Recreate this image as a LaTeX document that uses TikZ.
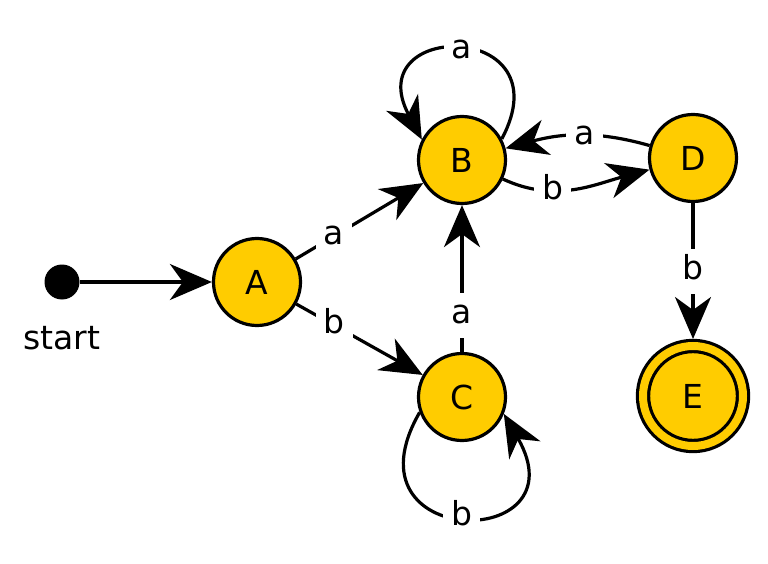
\documentclass[tikz,border=0pt]{standalone}
\usepackage{fontspec}
\setmainfont{DejaVu Sans}
\usetikzlibrary{arrows.meta}
\definecolor{stfill}{RGB}{255,204,0}
\begin{document}
\begin{tikzpicture}[x=1pt,y=1pt,
  every node/.style={font=\fontsize{33}{40}\selectfont},
  state/.style={circle, draw=black, line width=3.2pt, fill=stfill, minimum size=87pt, inner sep=0pt},
  accept/.style={circle, draw=black, line width=3.2pt, fill=stfill, double=stfill, double distance=8pt, minimum size=100pt, inner sep=0pt, outer sep=7pt},
  initdot/.style={circle, fill=black, minimum size=35pt, inner sep=0pt},
  edge/.style={line width=3.2pt, -{Stealth[length=42pt,width=36pt,inset=13pt]}},
  lbl/.style={fill=white, inner xsep=8pt, inner ysep=4pt, text height=27pt, text depth=10pt}
]
\fill[white] (0,0) rectangle (768,-564);
\useasboundingbox (0,0) rectangle (768,-564);

\node[initdot] (s) at (62,-282) {};
\node (startlbl) at (62,-338) {start};
\node[state] (A) at (257,-282) {A};
\node[state] (B) at (462,-160) {B};
\node[state] (C) at (462,-397) {C};
\node[state] (D) at (693,-158) {D};
\node[accept] (E) at (693,-396) {E};

\draw[edge] (s) -- (A);
\draw[edge] (A) -- node[lbl,pos=0.3]{a} (B);
\draw[edge] (A) -- node[lbl,pos=0.3]{b} (C);
\draw[edge] (C) -- node[lbl,pos=0.25]{a} (B);
\draw[edge] (D) -- node[lbl,pos=0.5]{b} (E);
\draw[edge] (B) to[out=-25,in=195] node[lbl,pos=0.34]{b} (D);
\draw[edge] (D) to[out=164,in=15] node[lbl,pos=0.45]{a} (B);
\draw[edge] (B.28) .. controls +(62:135pt) and +(118:135pt) .. node[lbl,pos=0.5]{a} (B.153);
\draw[edge] (C.200) .. controls +(240:160pt) and +(300:160pt) .. node[lbl,pos=0.5]{b} (C.338);
\end{tikzpicture}
\end{document}
